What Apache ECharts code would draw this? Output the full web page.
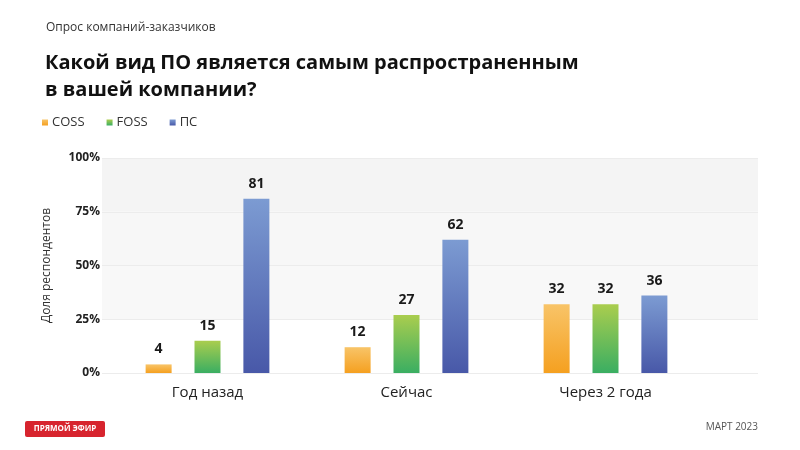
<!DOCTYPE html>
<html>
<head>
<meta charset="utf-8">
<script src="https://cdn.jsdelivr.net/npm/echarts@6/dist/echarts.min.js"></script>
<style>
  html, body { margin: 0; padding: 0; background: #fff; }
  #chart { width: 800px; height: 450px; }
</style>
</head>
<body>
<div id="chart"></div>
<script>
const categories = ['Год назад', 'Сейчас', 'Через 2 года']
const coss = [4, 12, 32]
const foss = [15, 27, 32]
const ps = [81, 62, 36]
const seriesNames = ['COSS', 'FOSS', 'ПС']

const font = '"Open Sans", "Noto Sans", sans-serif'

const grad = (top, bottom) => new echarts.graphic.LinearGradient(0, 0, 0, 1, [
  { offset: 0, color: top },
  { offset: 1, color: bottom }
])

const chart = echarts.init(document.getElementById('chart'), null, { renderer: 'canvas' })

const barSeries = (name, data, top, bottom) => ({
  name,
  type: 'bar',
  xAxisIndex: 1,
  yAxisIndex: 1,
  data,
  barWidth: 26,
  barGap: '88%',
  itemStyle: { color: grad(top, bottom) },
  label: {
    show: true,
    position: 'top',
    distance: 8,
    color: '#1a1a1a',
    fontFamily: font,
    fontWeight: 'bold',
    fontSize: 14
  },
  emphasis: { disabled: true }
})

const option = {
  backgroundColor: '#ffffff',
  animation: false,
  color: ['#f5a623', '#4cb050', '#4e68b0'],
  title: [
    {
      text: 'Опрос компаний-заказчиков',
      left: 41, top: 17,
      textStyle: { fontFamily: font, fontSize: 12, fontWeight: 'normal', color: '#333' }
    },
    {
      text: 'Какой вид ПО является самым распространенным\nв вашей компании?',
      left: 40, top: 45,
      textStyle: { fontFamily: font, fontSize: 20, fontWeight: 'bold', color: '#111', lineHeight: 27 }
    }
  ],
  legend: {
    data: seriesNames,
    left: 37, top: 111,
    icon: 'rect',
    itemWidth: 6, itemHeight: 6,
    itemGap: 22,
    selectedMode: false,
    textStyle: { fontFamily: font, fontSize: 13, color: '#333', padding: [0, 0, 0, -1] }
  },
  grid: [
    { left: 102, right: 42, top: 158, bottom: 77 },
    { left: 108, right: 95, top: 158, bottom: 77 }
  ],
  xAxis: [
    { gridIndex: 0, type: 'category', data: [''], show: false },
    {
      gridIndex: 1,
      type: 'category',
      data: categories,
      axisLine: { show: false },
      axisTick: { show: false },
      axisLabel: { margin: 12, fontFamily: font, fontSize: 15, color: '#222' }
    }
  ],
  yAxis: [
    {
      gridIndex: 0,
      type: 'value',
      min: 0, max: 100, interval: 25,
      name: 'Доля респондентов',
      nameLocation: 'middle',
      nameGap: 49,
      nameTextStyle: { fontFamily: font, fontSize: 12, color: '#333' },
      axisLine: { show: false },
      axisTick: { show: false },
      axisLabel: {
        formatter: '{value}%',
        margin: 2,
        fontFamily: font, fontSize: 12, fontWeight: 'bold', color: '#222'
      },
      splitLine: { show: true, lineStyle: { color: '#ececec', width: 1 } },
      splitArea: { show: true, areaStyle: { color: ['#ffffff', '#f8f8f8', '#f7f7f7', '#f4f4f4'] } }
    },
    {
      gridIndex: 1,
      type: 'value',
      min: 0, max: 100, interval: 25,
      show: false
    }
  ],
  series: [
    barSeries('COSS', coss, '#f8c468', '#f5a020'),
    barSeries('FOSS', foss, '#aacd4e', '#3aae62'),
    barSeries('ПС', ps, '#7c9bd2', '#4858a8')
  ],
  graphic: [
    {
      type: 'rect',
      left: 25, top: 421,
      shape: { width: 80, height: 16, r: 2 },
      style: { fill: '#d7242e' }
    },
    {
      type: 'text',
      x: 65, y: 429,
      style: {
        text: 'ПРЯМОЙ ЭФИР', fill: '#fff',
        font: 'bold 8px "Open Sans", sans-serif',
        align: 'center', verticalAlign: 'middle'
      }
    },
    {
      type: 'text',
      right: 42, top: 422,
      style: { text: 'МАРТ 2023', fill: '#555', font: '10px "Open Sans", sans-serif' }
    }
  ]
}

chart.setOption(option)
</script>
</body>
</html>
